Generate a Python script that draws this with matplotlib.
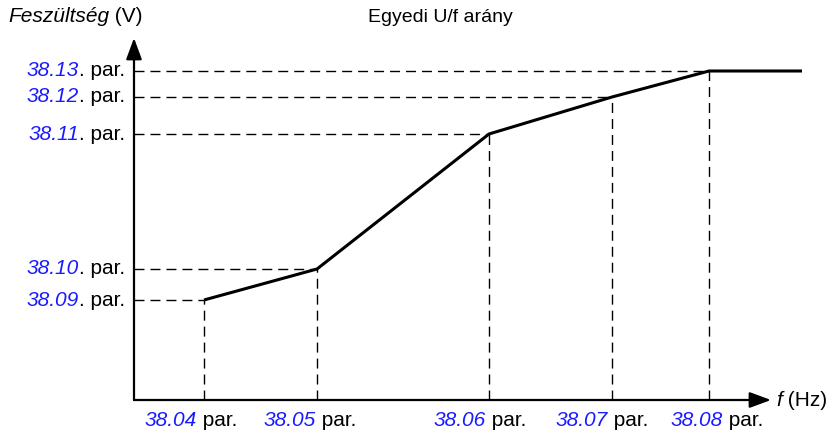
import matplotlib
matplotlib.use("Agg")
import matplotlib.pyplot as plt

plt.rcParams["font.family"] = ["Liberation Sans", "DejaVu Sans"]

# break points of the custom U/f curve (arbitrary units)
freq_pts = [7.0, 18.3, 35.5, 47.8, 57.5]
volt_pts = [10.0, 13.1, 26.6, 30.3, 32.9]
freq_end = 66.8

freq_params = ["38.04", "38.05", "38.06", "38.07", "38.08"]
volt_params = ["38.09", "38.10", "38.11", "38.12", "38.13"]

title = "Egyedi U/f arány"
BLUE = "#1a1aff"
FS = 15


fig = plt.figure(figsize=(8.31, 4.33), dpi=100)
ax = fig.add_axes([134 / 831, 33 / 433, 697 / 831, 400 / 433])
ax.set_xlim(0, 69.7)
ax.set_ylim(0, 40)
ax.axis("off")

# guide lines from each break point to both axes
dash = (0, (7.2, 4.3))
for f, u in zip(freq_pts, volt_pts):
    ax.plot([0, f], [u, u], color="black", lw=1.0, linestyle=dash)
    ax.plot([f, f], [0, u], color="black", lw=1.0, linestyle=dash)

# the curve itself
ax.plot(freq_pts + [freq_end], volt_pts + [volt_pts[-1]], color="black",
        lw=2.2, solid_capstyle="butt", solid_joinstyle="round", zorder=3)

# axes with arrow heads
arrow = dict(arrowstyle="-|>,head_length=0.65,head_width=0.24", mutation_scale=20,
             lw=1.6, color="black", shrinkA=0, shrinkB=0)
ax.annotate("", xy=(0, 36.2), xytext=(0, 0), arrowprops=arrow)
ax.annotate("", xy=(63.7, 0), xytext=(0, 0), arrowprops=arrow)

# y labels: blue italic number + black ". par."
for u, p in zip(volt_pts, volt_params):
    t = ax.text(-0.9, u, ". par.", ha="right", va="center", fontsize=FS)
    ax.annotate(p, xy=(0, 0), xycoords=t, ha="right", va="bottom",
                fontsize=FS, color=BLUE, style="italic")

# x labels
x_shift = [-3.3, -2.7, -2.9, -3.0, -1.2]
for f, p, s in zip(freq_pts, freq_params, x_shift):
    t = ax.text(f + s, -2.1, p, ha="center", va="center", fontsize=FS,
                color=BLUE, style="italic")
    ax.annotate(" par.", xy=(1, 0), xycoords=t, ha="left", va="bottom",
                fontsize=FS, color="black")

# axis titles
yl = ax.text(-12.6, 38.3, "Feszültség", ha="left", va="center", fontsize=FS,
             style="italic")
ax.annotate(" (V)", xy=(1, 0), xycoords=yl, ha="left", va="bottom", fontsize=FS)
xl = ax.text(64.2, 0, "f", ha="left", va="center", fontsize=FS, style="italic")
ax.annotate(" (Hz)", xy=(1, 0), xycoords=xl, ha="left", va="bottom", fontsize=FS)

ax.text(30.6, 38.3, title, ha="center", va="center", fontsize=14)

fig.savefig("out.png", dpi=100)
